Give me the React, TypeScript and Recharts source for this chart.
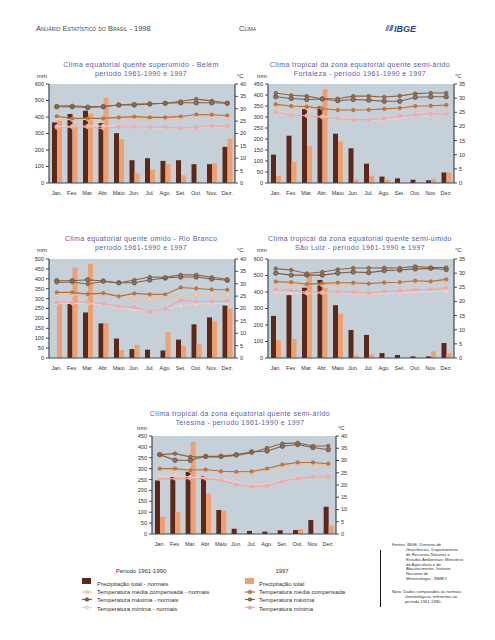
import React from 'react';
import { ComposedChart, Bar, Line, XAxis, YAxis, CartesianGrid } from 'recharts';

const months = ['Jan.', 'Fev.', 'Mar.', 'Abr.', 'Maio', 'Jun.', 'Jul.', 'Ago.', 'Set.', 'Out.', 'Nov.', 'Dez.'];

// Belém
const belemPrecN = [367, 418, 438, 363, 302, 138, 150, 134, 138, 114, 114, 219];
const belemPrec97 = [378, 355, 420, 515, 265, 57, 80, 115, 47, 8, 120, 268];
const belemMaxN = [30.8, 30.8, 30.5, 30.8, 31.5, 31.5, 31.9, 32.2, 32.4, 32.4, 32.4, 32.2];
const belemMax97 = [31.1, 31.2, 30.8, 31, 31.5, 31.9, 32, 32.2, 33, 33.9, 33.2, 32.3];
const belemMeanN = [25.9, 25.6, 25.7, 25.9, 26.1, 26.1, 25.9, 26.1, 26.2, 26.4, 26.6, 26.5];
const belemMean97 = [27, 26.1, 26.1, 26.1, 26.5, 26.8, 26.5, 26.5, 26.9, 27.7, 27.6, 27.3];
const belemMinN = [22.8, 22.9, 23, 23, 23, 22.6, 22.2, 22.2, 22.2, 22.3, 22.5, 22.7];
const belemMin97 = [22.3, 22.5, 22.5, 22, 22.7, 22.7, 22.5, 22.5, 22.2, 22.5, 23, 23];

// Fortaleza
const fortPrecN = [129, 215, 336, 348, 224, 158, 88, 29, 21, 15, 12, 48];
const fortPrec97 = [33, 95, 167, 427, 188, 17, 33, 15, 1, 3, 18, 48];
const fortMaxN = [30.5, 29.9, 29.5, 29.7, 29.1, 29.5, 29.3, 28.9, 28.9, 30.3, 30.5, 30.5];
const fortMax97 = [31.8, 31, 30.7, 29.8, 29.8, 30.7, 30.7, 30.4, 30.8, 31.6, 31.8, 31.8];
const fortMeanN = [27.2, 26.8, 26.5, 26.4, 26.3, 26, 25.8, 26, 26.3, 26.8, 27, 27.2];
const fortMean97 = [27.8, 27.2, 27, 26.3, 25.8, 25.8, 25.9, 26.2, 26.5, 27.2, 27.3, 27.6];
const fortMinN = [24.5, 24.2, 23.8, 23.5, 23.2, 22.7, 22.3, 22.3, 23, 23.6, 24, 24.2];
const fortMin97 = [25, 24, 23.8, 23.2, 23, 22.4, 22.4, 22.7, 23.6, 24, 24.4, 24.3];

// Rio Branco
const rioPrecN = [null, 280, 230, 175, 98, 45, 42, 38, 93, 170, 205, 265];
const rioPrec97 = [275, 457, 476, 175, 40, 65, 0, 130, 62, 70, 185, 250];
const rioMaxN = [31.2, 31.2, 31.6, 31.1, 30.4, 30.4, 31.5, 32.3, 32.7, 32.7, 31.9, 31.4];
const rioMax97 = [30.5, 30.7, 29.9, 30.9, 30.3, 31.5, 32.7, 32.6, 33.6, 33.6, 32.6, 31.8];
const rioMeanN = [25.5, 25.5, 25.5, 25.8, 24.9, 23.8, 23.8, 24.5, 25.2, 25.5, 25.5, 25.5];
const rioMean97 = [26.5, 26.5, 25.8, 26.2, 24.9, 26.1, 25.7, 25.7, 28.5, 28.1, 27.7, 27.6];
const rioMinN = [22, 22.1, 22, 21.6, 20.2, 19.4, 19, 19.8, 21, 21.8, 22, 22];
const rioMin97 = [22.4, 22.4, 22.6, 21.9, 20.8, 20.5, 18.8, 19.9, 23.4, 22.8, 22.8, 23.1];

// São Luiz
const sluPrecN = [255, 381, 426, 473, 320, 170, 140, 30, 18, 10, 10, 91];
const sluPrec97 = [107, 115, 507, 426, 268, 16, 22, 1, 0, 2, 40, 30];
const sluMaxN = [30, 29.3, 29.3, 29.3, 30, 30.4, 30.2, 30.9, 31.1, 31.5, 31.7, 31.3];
const sluMax97 = [31.6, 31.1, 29.9, 30.4, 31.3, 31.8, 31.8, 31.9, 31.8, 32.4, 32, 32];
const sluMeanN = [26.3, 26, 25.8, 25.8, 26, 26.2, 26.2, 26.5, 26.8, 27, 27, 27];
const sluMean97 = [27, 26.8, 26.1, 26.4, 26.6, 26.6, 26.3, 26.7, 26.8, 27.3, 27.1, 27.8];
const sluMinN = [23.2, 23, 22.9, 23, 23, 22.8, 22.5, 22.8, 23, 23.3, 23.5, 23.6];
const sluMin97 = [24.2, 23.9, 23.3, 23.3, 23.4, 23.3, 22.9, 23.5, 23.8, 24.1, 24.2, 24.7];

// Teresina
const terPrecN = [246, 261, 285, 265, 110, 24, 14, 11, 17, 18, 64, 125];
const terPrec97 = [79, 102, 423, 186, 107, 0, 0, 0, 0, 23, 2, 38];
const terMaxN = [32.4, 30.1, 30.1, 31.7, 31.7, 32.4, 33.5, 33.9, 35.8, 36.5, 35.3, 34.4];
const terMax97 = [32.4, 32.8, 31.5, 31.5, 31.5, 32.1, 33.2, 35.1, 36.9, 37.2, 35.9, 35.9];
const terMeanN = [26.6, 25.8, 25.7, 25.9, 25.3, 24.3, 24.9, 25.9, 27.5, 28.6, 28.6, 28.1];
const terMean97 = [26.7, 26.7, 26, 26.3, 25.6, 25.4, 25.5, 26.7, 28.3, 29.2, 29.2, 28.7];
const terMinN = [23.3, 24, 23.2, 23, 22.5, 21, 20, 20.3, 21.8, 22.8, 23.2, 23.2];
const terMin97 = [22.4, 22.6, 22.6, 22.6, 22, 20.2, 19.4, 19.7, 21.6, 22.6, 23.3, 23.3];

const mmTicks450 = [0, 50, 100, 150, 200, 250, 300, 350, 400, 450];
const mmTicks500 = [0, 50, 100, 150, 200, 250, 300, 350, 400, 450, 500];
const mmTicks600 = [0, 100, 200, 300, 400, 500, 600];
const cTicks35 = [0, 5, 10, 15, 20, 25, 30, 35];
const cTicks40 = [0, 5, 10, 15, 20, 25, 30, 35, 40];

const BG = '#c5d0d9';
const AXIS = '#3d4a57';
const DARK = '#5e2818';
const LIGHT = '#eea070';
const FONT = '"Liberation Sans", Arial, sans-serif';

const rows = (precN, prec97, maxN, max97, meanN, mean97, minN, min97) =>
  months.map((m, i) => ({
    month: m,
    precN: precN[i],
    prec97: prec97[i],
    maxN: maxN[i],
    max97: max97[i],
    meanN: meanN[i],
    mean97: mean97[i],
    minN: minN[i],
    min97: min97[i],
  }));

const tick = { fontSize: 5.6, fill: '#333', fontFamily: FONT };

function ClimateChart({ x, y, w, h, data, mmTicks, cTicks }) {
  const padL = 30, padR = 22, padT = 5, padB = 14;
  return (
    <div style={{ position: 'absolute', left: x - padL, top: y - padT }}>
      <ComposedChart
        width={padL + w + padR}
        height={padT + h + padB}
        data={data}
        margin={{ top: padT, right: 0, bottom: 0, left: 0 }}
        barGap={0}
        barSize={5}
      >
        <CartesianGrid fill={BG} stroke="none" horizontal={false} vertical={false} />
        <XAxis dataKey="month" height={padB} interval={0} tickLine={false} tick={tick} tickMargin={2} axisLine={{ stroke: AXIS }} />
        <YAxis yAxisId="mm" width={padL} domain={[0, mmTicks[mmTicks.length - 1]]} ticks={mmTicks} interval={0}
          tick={tick} tickSize={3} tickLine={{ stroke: AXIS }} axisLine={{ stroke: AXIS, strokeWidth: 1.2 }} />
        <YAxis yAxisId="c" orientation="right" width={padR} domain={[0, cTicks[cTicks.length - 1]]} ticks={cTicks} interval={0}
          tick={tick} tickSize={3} tickLine={{ stroke: AXIS }} axisLine={{ stroke: AXIS, strokeWidth: 1.2 }} />
        <Bar yAxisId="mm" dataKey="precN" fill={DARK} isAnimationActive={false} />
        <Bar yAxisId="mm" dataKey="prec97" fill={LIGHT} isAnimationActive={false} />
        <Line yAxisId="c" dataKey="minN" stroke="#f6d0c8" strokeWidth={1.1} dot={{ r: 1.8, fill: '#f8dad2', stroke: '#f3c2b8', strokeWidth: 0.7 }} isAnimationActive={false} />
        <Line yAxisId="c" dataKey="min97" stroke="#f0a4a4" strokeWidth={1.1} dot={{ r: 1.7, fill: '#f2aeac', stroke: '#ec9a9a', strokeWidth: 0.6 }} isAnimationActive={false} />
        <Line yAxisId="c" dataKey="meanN" stroke="#f2c09c" strokeWidth={1.1} dot={{ r: 1.8, fill: '#f7d6c0', stroke: '#eeb088', strokeWidth: 0.7 }} isAnimationActive={false} />
        <Line yAxisId="c" dataKey="mean97" stroke="#b0703c" strokeWidth={1.1} dot={{ r: 1.7, fill: '#bc7c4a', stroke: '#a06230', strokeWidth: 0.6 }} isAnimationActive={false} />
        <Line yAxisId="c" dataKey="maxN" stroke="#7a5e48" strokeWidth={1.1} dot={{ r: 2.2, fill: '#927664', stroke: '#5a4232', strokeWidth: 0.7 }} isAnimationActive={false} />
        <Line yAxisId="c" dataKey="max97" stroke="#8a6446" strokeWidth={1.1} dot={{ r: 1.8, fill: '#96704e', stroke: '#74502e', strokeWidth: 0.6 }} isAnimationActive={false} />
      </ComposedChart>
    </div>
  );
}

const titleStyle = { fontSize: 7, fill: '#5b5bab', fontFamily: FONT, letterSpacing: 0.4 };
const smallText = { fontSize: 5.9, fill: '#333', fontFamily: FONT };
const noteText = { fontSize: 4.2, fill: '#333', fontFamily: FONT };

function Title({ cx, y, l1, l2 }) {
  return (
    <g>
      <text x={cx} y={y} textAnchor="middle" style={titleStyle}>{l1}</text>
      <text x={cx} y={y + 9} textAnchor="middle" style={titleStyle}>{l2}</text>
    </g>
  );
}

function LegendLine({ x, y, color, dotFill, dotStroke }) {
  return (
    <g>
      <line x1={x} x2={x + 10} y1={y} y2={y} stroke={color} strokeWidth={1.2} />
      <circle cx={x + 5} cy={y} r={1.8} fill={dotFill} stroke={dotStroke} strokeWidth={0.6} />
    </g>
  );
}

export default function App() {
  return (
    <div style={{ position: 'relative', left: -8, top: -8, width: 495, height: 640, background: '#fff' }}>
      <svg width={495} height={640} style={{ position: 'absolute', left: 0, top: 0 }}>
        <text x={36} y={31} style={{ fontSize: 7.5, fontVariant: 'small-caps', fill: '#444', fontFamily: FONT }}>Anuário Estatístico do Brasil - 1998</text>
        <text x={239} y={31} style={{ fontSize: 7.5, fontVariant: 'small-caps', fill: '#444', fontFamily: FONT }}>Clima</text>
        <g fill="#3a5aa8">
          <polygon points="385,31 387,25 390,25 388,31" opacity={0.6} />
          <polygon points="389,31 391,25 394,25 392,31" opacity={0.8} />
        </g>
        <text x={394} y={31.5} style={{ fontSize: 9, fontWeight: 'bold', fontStyle: 'italic', fill: '#1f3f96', fontFamily: FONT }}>IBGE</text>

        <Title cx={141} y={67} l1="Clima equatorial quente superúmido - Belém" l2="período 1961-1990 e 1997" />
        <Title cx={360} y={67} l1="Clima tropical da zona equatorial quente semi-árido" l2="Fortaleza - período 1961-1990 e 1997" />
        <Title cx={141} y={241} l1="Clima equatorial quente úmido - Rio Branco" l2="período 1961-1990 e 1997" />
        <Title cx={360} y={241} l1="Clima tropical da zona equatorial quente semi-úmido" l2="São Luiz -  período 1961-1990 e 1997" />
        <Title cx={240} y={416} l1="Clima tropical da zona equatorial quente semi-árido" l2="Teresina -  período 1961-1990 e 1997" />

        <text x={37} y={78} style={smallText}>mm</text>
        <text x={237} y={78} style={smallText}>°C</text>
        <text x={257} y={78} style={smallText}>mm</text>
        <text x={455} y={78} style={smallText}>°C</text>
        <text x={37} y={252} style={smallText}>mm</text>
        <text x={237} y={252} style={smallText}>°C</text>
        <text x={257} y={252} style={smallText}>mm</text>
        <text x={455} y={252} style={smallText}>°C</text>
        <text x={137} y={430} style={smallText}>mm</text>
        <text x={338} y={430} style={smallText}>°C</text>

        <text x={141} y={573} textAnchor="middle" style={smallText}>Período 1961-1990</text>
        <rect x={82} y={578} width={9} height={6} fill={DARK} />
        <text x={97} y={586} style={smallText}>Precipitação total - normais</text>
        <LegendLine x={82} y={592} color="#f2c09c" dotFill="#f7d6c0" dotStroke="#eeb088" />
        <text x={97} y={594} style={smallText}>Temperatura média compensada - normais</text>
        <LegendLine x={82} y={599.5} color="#7a5e48" dotFill="#7a5e48" dotStroke="#5a4232" />
        <text x={97} y={602} style={smallText}>Temperatura máxima - normais</text>
        <LegendLine x={82} y={607.5} color="#f6d0c8" dotFill="#f8dad2" dotStroke="#f3c2b8" />
        <text x={97} y={611} style={smallText}>Temperatura mínima - normais</text>

        <text x={282} y={573} textAnchor="middle" style={smallText}>1997</text>
        <rect x={245} y={578} width={9} height={6} fill={LIGHT} />
        <text x={259} y={586} style={smallText}>Precipitação total</text>
        <LegendLine x={245} y={592} color="#b0703c" dotFill="#bc7c4a" dotStroke="#a06230" />
        <text x={259} y={594} style={smallText}>Temperatura média compensada</text>
        <LegendLine x={245} y={599.5} color="#8a6446" dotFill="#96704e" dotStroke="#74502e" />
        <text x={259} y={602} style={smallText}>Temperatura máxima</text>
        <LegendLine x={245} y={607.5} color="#f0a4a4" dotFill="#f2aeac" dotStroke="#ec9a9a" />
        <text x={259} y={611} style={smallText}>Temperatura mínima</text>

        <line x1={380.5} x2={380.5} y1={550} y2={607} stroke="#111" strokeWidth={1} />
        <text x={392} y={546} style={noteText}>Fontes: IBGE, Diretoria de</text>
        <text x={406} y={551} style={noteText}>Geociências, Departamento</text>
        <text x={406} y={556} style={noteText}>de Recursos Naturais e</text>
        <text x={406} y={560.5} style={noteText}>Estudos Ambientais; Ministério</text>
        <text x={406} y={565.5} style={noteText}>da Agricultura e do</text>
        <text x={406} y={570} style={noteText}>Abastecimento. Instituto</text>
        <text x={406} y={575} style={noteText}>Nacional de</text>
        <text x={406} y={580} style={noteText}>Meteorologia - INMET.</text>
        <text x={392} y={593} style={noteText}>Nota: Dados comparados às normais</text>
        <text x={405} y={598} style={noteText}>climatológicas referentes ao</text>
        <text x={405} y={602.5} style={noteText}>período 1961-1990.</text>
      </svg>

      <ClimateChart x={49} y={84} w={186} h={99} mmTicks={mmTicks600} cTicks={cTicks40}
        data={rows(belemPrecN, belemPrec97, belemMaxN, belemMax97, belemMeanN, belemMean97, belemMinN, belemMin97)} />
      <ClimateChart x={268} y={84} w={186} h={99} mmTicks={mmTicks450} cTicks={cTicks35}
        data={rows(fortPrecN, fortPrec97, fortMaxN, fortMax97, fortMeanN, fortMean97, fortMinN, fortMin97)} />
      <ClimateChart x={49} y={259} w={186} h={99} mmTicks={mmTicks500} cTicks={cTicks40}
        data={rows(rioPrecN, rioPrec97, rioMaxN, rioMax97, rioMeanN, rioMean97, rioMinN, rioMin97)} />
      <ClimateChart x={268} y={259} w={186} h={99} mmTicks={mmTicks600} cTicks={cTicks35}
        data={rows(sluPrecN, sluPrec97, sluMaxN, sluMax97, sluMeanN, sluMean97, sluMinN, sluMin97)} />
      <ClimateChart x={152} y={436} w={184} h={98} mmTicks={mmTicks450} cTicks={cTicks40}
        data={rows(terPrecN, terPrec97, terMaxN, terMax97, terMeanN, terMean97, terMinN, terMin97)} />
    </div>
  );
}
